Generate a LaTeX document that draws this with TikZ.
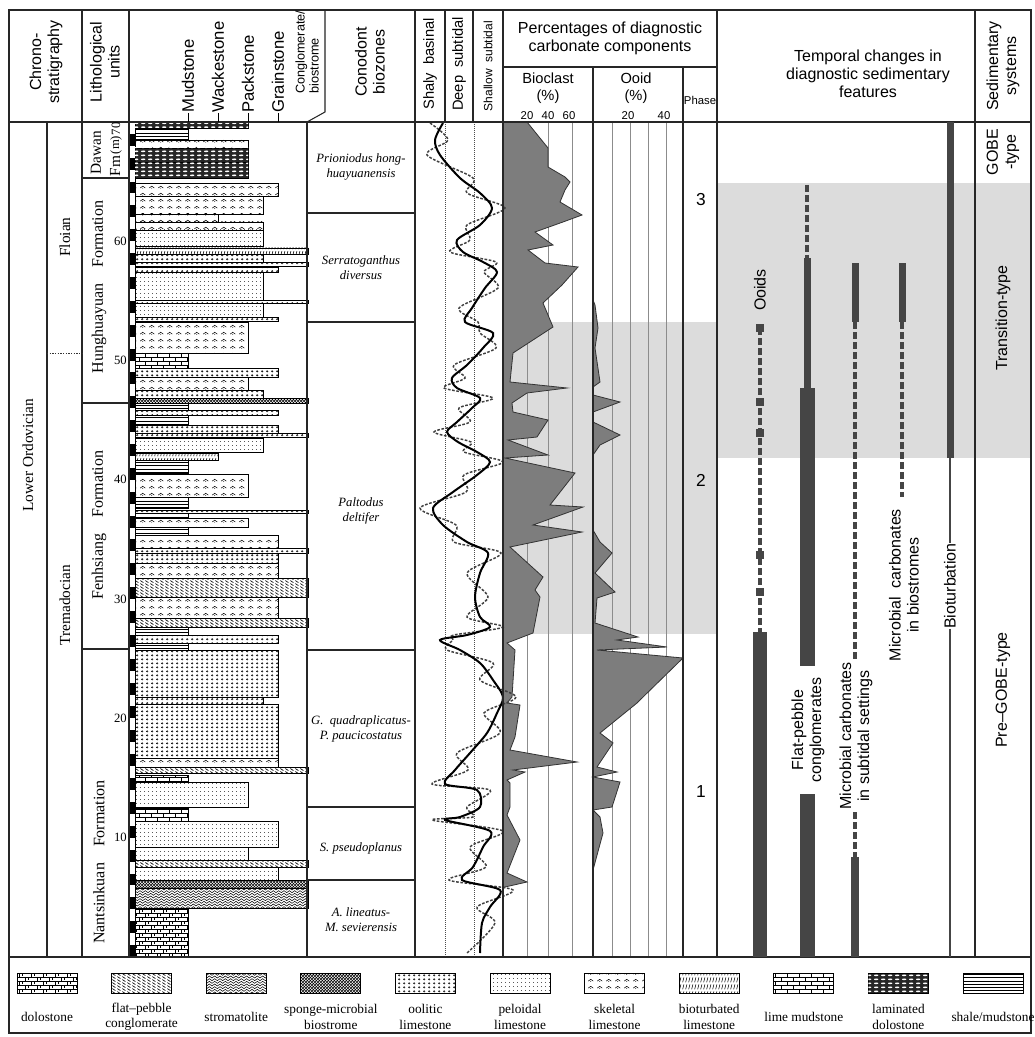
\documentclass[tikz,border=0pt]{standalone}
\usepackage{fontspec}
\usepackage{graphicx}
\setmainfont{Liberation Serif}
\setsansfont{Liberation Sans}
\usetikzlibrary{patterns}
\definecolor{bargray}{HTML}{454545}
\definecolor{compgray}{HTML}{7D7D7D}
\definecolor{shadegray}{HTML}{DCDCDC}
\definecolor{gridgray}{HTML}{8C8C8C}

\pgfdeclarepatternformonly{Pshale}{\pgfqpoint{-0.1pt}{-0.1pt}}{\pgfqpoint{3.1pt}{2.5pt}}{\pgfqpoint{3pt}{2.4pt}}{%
 \pgfsetlinewidth{0.45pt}\pgfpathmoveto{\pgfqpoint{-0.1pt}{1.2pt}}\pgfpathlineto{\pgfqpoint{3.1pt}{1.2pt}}\pgfusepath{stroke}}
\pgfdeclarepatternformonly{Pbrick}{\pgfqpoint{-0.5pt}{-0.5pt}}{\pgfqpoint{9.5pt}{6.5pt}}{\pgfqpoint{9pt}{6pt}}{%
 \pgfsetlinewidth{0.5pt}
 \pgfpathmoveto{\pgfqpoint{0pt}{0pt}}\pgfpathlineto{\pgfqpoint{9pt}{0pt}}
 \pgfpathmoveto{\pgfqpoint{0pt}{3pt}}\pgfpathlineto{\pgfqpoint{9pt}{3pt}}
 \pgfpathmoveto{\pgfqpoint{1pt}{0pt}}\pgfpathlineto{\pgfqpoint{1pt}{3pt}}
 \pgfpathmoveto{\pgfqpoint{5.5pt}{3pt}}\pgfpathlineto{\pgfqpoint{5.5pt}{6pt}}
 \pgfusepath{stroke}}
\pgfdeclarepatternformonly{Pdolo}{\pgfqpoint{-0.5pt}{-0.5pt}}{\pgfqpoint{9.5pt}{6.5pt}}{\pgfqpoint{9pt}{6pt}}{%
 \pgfsetlinewidth{0.5pt}
 \pgfpathmoveto{\pgfqpoint{0pt}{0pt}}\pgfpathlineto{\pgfqpoint{9pt}{0pt}}
 \pgfpathmoveto{\pgfqpoint{0pt}{3pt}}\pgfpathlineto{\pgfqpoint{9pt}{3pt}}
 \pgfpathmoveto{\pgfqpoint{1pt}{0pt}}\pgfpathlineto{\pgfqpoint{1pt}{3pt}}
 \pgfpathmoveto{\pgfqpoint{5.5pt}{3pt}}\pgfpathlineto{\pgfqpoint{5.5pt}{6pt}}
 \pgfpathmoveto{\pgfqpoint{3.5pt}{0.6pt}}\pgfpathlineto{\pgfqpoint{3.5pt}{2.4pt}}
 \pgfpathmoveto{\pgfqpoint{8pt}{3.6pt}}\pgfpathlineto{\pgfqpoint{8pt}{5.4pt}}
 \pgfusepath{stroke}}
\pgfdeclarepatternformonly{Poolit}{\pgfqpoint{0pt}{0pt}}{\pgfqpoint{3.5pt}{3pt}}{\pgfqpoint{3.5pt}{3pt}}{%
 \pgfsetlinewidth{0.35pt}\pgfpathcircle{\pgfqpoint{1.75pt}{1.5pt}}{0.65pt}\pgfusepath{stroke}}
\pgfdeclarepatternformonly{Ppel}{\pgfqpoint{0pt}{0pt}}{\pgfqpoint{2.6pt}{2.6pt}}{\pgfqpoint{2.6pt}{2.6pt}}{%
 \pgfpathcircle{\pgfqpoint{1.3pt}{1.3pt}}{0.35pt}\pgfusepath{fill}}
\pgfdeclarepatternformonly{Pskel}{\pgfqpoint{0pt}{0pt}}{\pgfqpoint{7pt}{5pt}}{\pgfqpoint{7pt}{5pt}}{%
 \pgfsetlinewidth{0.4pt}
 \pgfpathmoveto{\pgfqpoint{1pt}{1.5pt}}\pgfpathcurveto{\pgfqpoint{2pt}{3.3pt}}{\pgfqpoint{4pt}{3.3pt}}{\pgfqpoint{5pt}{1.5pt}}
 \pgfusepath{stroke}
 \pgfpathcircle{\pgfqpoint{3pt}{1.3pt}}{0.35pt}\pgfusepath{fill}}
\pgfdeclarepatternformonly{Pbiot}{\pgfqpoint{0pt}{0pt}}{\pgfqpoint{2.5pt}{5pt}}{\pgfqpoint{2.5pt}{5pt}}{%
 \pgfsetlinewidth{0.5pt}\pgfpathmoveto{\pgfqpoint{0.6pt}{0.6pt}}\pgfpathlineto{\pgfqpoint{1.7pt}{4.4pt}}\pgfusepath{stroke}}
\pgfdeclarepatternformonly{Pfpc}{\pgfqpoint{0pt}{0pt}}{\pgfqpoint{3.5pt}{2.5pt}}{\pgfqpoint{3.5pt}{2.5pt}}{%
 \pgfsetlinewidth{0.55pt}\pgfpathmoveto{\pgfqpoint{0.3pt}{2.1pt}}\pgfpathlineto{\pgfqpoint{2.7pt}{0.4pt}}\pgfusepath{stroke}}
\pgfdeclarepatternformonly{Pstrom}{\pgfqpoint{-0.2pt}{-0.2pt}}{\pgfqpoint{4.2pt}{2.2pt}}{\pgfqpoint{4pt}{2pt}}{%
 \pgfsetlinewidth{0.4pt}\pgfpathmoveto{\pgfqpoint{0pt}{1pt}}
 \pgfpathcurveto{\pgfqpoint{0.7pt}{2pt}}{\pgfqpoint{1.3pt}{2pt}}{\pgfqpoint{2pt}{1pt}}
 \pgfpathcurveto{\pgfqpoint{2.7pt}{0pt}}{\pgfqpoint{3.3pt}{0pt}}{\pgfqpoint{4pt}{1pt}}\pgfusepath{stroke}}
\pgfdeclarepatternformonly{Psponge}{\pgfqpoint{0pt}{0pt}}{\pgfqpoint{2.5pt}{2.5pt}}{\pgfqpoint{2.5pt}{2.5pt}}{%
 \pgfsetlinewidth{0.45pt}
 \pgfpathmoveto{\pgfqpoint{0pt}{0pt}}\pgfpathlineto{\pgfqpoint{2.5pt}{2.5pt}}
 \pgfpathmoveto{\pgfqpoint{0pt}{2.5pt}}\pgfpathlineto{\pgfqpoint{2.5pt}{0pt}}\pgfusepath{stroke}}
\pgfdeclarepatternformonly{Plam}{\pgfqpoint{0pt}{0pt}}{\pgfqpoint{5pt}{3pt}}{\pgfqpoint{5pt}{3pt}}{%
 \pgfpathellipse{\pgfqpoint{2.5pt}{1.5pt}}{\pgfqpoint{1.7pt}{0pt}}{\pgfqpoint{0pt}{0.75pt}}\pgfusepath{fill}}

\tikzset{
 frame/.style={draw=black!85, line width=0.8pt},
 gridln/.style={draw=gridgray, line width=0.6pt},
 dotln/.style={draw=black!70, line width=0.5pt, dash pattern=on 0.6pt off 0.9pt},
 bed/.style={draw=black, line width=0.5pt, preaction={fill=white}},
 Lshale/.style={pattern=Pshale},
 Llime/.style={pattern=Pbrick},
 Ldolo/.style={pattern=Pdolo},
 Loolit/.style={pattern=Poolit},
 Lpel/.style={pattern=Ppel},
 Lskel/.style={pattern=Pskel},
 Lbiot/.style={pattern=Pbiot},
 Lfpc/.style={pattern=Pfpc},
 Lstrom/.style={pattern=Pstrom},
 Lsponge/.style={pattern=Psponge},
 Llam/.style={fill=black!85, postaction={pattern=Plam, pattern color=white}},
 hdr/.style={font=\sffamily\fontsize{12}{13.5}\selectfont, align=center, inner sep=0pt},
 hdrv/.style={hdr, rotate=90},
 texlab/.style={font=\sffamily\fontsize{12.5}{13}\selectfont, inner sep=0pt, rotate=90, anchor=west},
 serifv/.style={font=\fontsize{12}{13}\selectfont, inner sep=0pt, rotate=90, align=center},
 depth/.style={font=\fontsize{9.5}{10}\selectfont, inner sep=0pt, anchor=east},
 smallv/.style={inner sep=0pt},
 cono/.style={font=\itshape\fontsize{9.5}{11}\selectfont, align=center, inner sep=0pt},
 featlab/.style={font=\sffamily\fontsize{12}{13.5}\selectfont, align=center, inner sep=0pt, rotate=90},
 phasenum/.style={font=\sffamily\fontsize{13}{14}\selectfont, inner sep=0pt},
 leglab/.style={font=\fontsize{10}{11.5}\selectfont, align=center, inner sep=0pt},
 compfill/.style={fill=compgray, draw=black!80, line width=0.6pt},
 bar/.style={fill=bargray},
 dashbar/.style={draw=bargray, line width=3pt, dash pattern=on 5pt off 2.5pt},
}

\begin{document}
\begin{tikzpicture}[x=0.75pt,y=-0.75pt]
\path[use as bounding box, fill=white] (0,0) rectangle (1034,1037);

% shaded intervals
\fill[shadegray] (503,322) rectangle (717,634);
\fill[shadegray] (717,183) rectangle (1031,458);

% grid lines
\foreach \gx in {527,548,572,612,630,648,666} \draw[gridln] (\gx,122) -- (\gx,957);
\foreach \gx in {445,474} \draw[dotln] (\gx,122) -- (\gx,957);

% bioclast percentages
\filldraw[compfill] plot coordinates {(503,122)(527,122)(548,148)(548,167)(565,177)(570,182)(565,190)(560,202)(582,215)(563,222)(535,232)(553,245)(528,250)(545,263)(578,267)(562,285)(543,303)(553,327)(533,340)(513,353)(510,382)(567,388)(527,393)(512,403)(513,412)(548,420)(537,437)(508,440)(548,455)(505,458)(575,473)(568,482)(550,505)(583,507)(533,525)(582,532)(510,547)(543,577)(535,590)(540,597)(533,633)(507,643)(515,650)(512,697)(507,703)(520,705)(515,737)(510,750)(577,762)(513,770)(525,772)(507,780)(510,783)(510,807)(507,815)(520,840)(507,873)(527,882)(505,887)(503,887)} -- cycle;

% ooid percentages
\filldraw[compfill] plot coordinates {(593,300)(595,305)(598,328)(595,348)(600,382)(593,387)(593,395)(620,402)(593,412)(593,422)(620,435)(600,445)(593,455)(593,530)(600,542)(612,553)(595,573)(615,592)(597,598)(595,623)(638,637)(617,640)(667,647)(597,650)(683,658)(640,700)(637,703)(600,733)(613,743)(597,767)(617,772)(593,777)(620,782)(612,807)(593,810)(600,817)(603,833)(593,870)} -- cycle;

% sea-level curves
\def\solidpts{443/123,435/140,440/155,460/178,480/193,492/208,480/225,457/240,463/252,483/262,497/272,485/288,472/308,465/322,493/333,483/348,467/365,452/378,457/388,480/398,472/408,457/422,447/432,458/442,477/452,490/462,477/475,453/492,433/508,443/525,467/542,488/553,480/573,475/597,480/617,490/627,467/635,440/640,460/650,480/663,493/680,503/697,497/713,487/733,470/753,455/770,445/784,477/790,480/807,460/817,445/820,490/831,483/847,473/867,462/880,500/890,490/907,482/923,480/953}
\gdef\solidlist{}\gdef\dashlist{}
\foreach \px/\py [count=\i] in \solidpts {
  \pgfmathsetmacro\qx{\px+(mod(\i,2)==0 ? 13 : -13)}
  \xdef\solidlist{\solidlist(\px,\py)}
  \xdef\dashlist{\dashlist(\qx,\py)}
}
\edef\drawcurves{\noexpand\draw[black!75, line width=1.1pt, dash pattern=on 2pt off 1.2pt] plot[smooth] coordinates {\dashlist};
 \noexpand\draw[black, line width=1.5pt] plot[smooth] coordinates {\solidlist};}
\drawcurves

% depth scale bar
\foreach \k in {0,2,...,68} \fill[black] (129,{957-11.93*\k}) rectangle (135,{957-11.93*(\k+1)});
\draw[line width=0.5pt] (129,122) rectangle (135,957);

% lithology beds
\foreach \a/\b/\r/\ty in {
122/128/248/Llam, 128/140/188/Lshale, 140/148/248/Lskel, 148/162/248/Llam, 162/178/248/Llam,
183/196/278/Lskel, 196/214/263/Lskel, 214/222/218/Lskel, 222/230/263/Lskel, 230/246/263/Lpel,
248/254/308/Lbiot, 254/262/263/Loolit, 262/266/308/Loolit, 267/272/278/Loolit, 272/300/263/Lpel,
300/303/308/Loolit, 303/317/263/Lpel, 317/321/278/Loolit, 322/353/248/Lskel, 353/368/188/Llime,
368/377/278/Loolit, 377/390/248/Lskel, 390/398/263/Loolit, 398/403/308/Lsponge, 403/410/188/Lshale,
410/415/278/Loolit, 415/425/188/Lshale, 425/433/278/Loolit, 433/437/308/Loolit, 438/452/263/Lpel,
453/460/218/Lbiot, 460/473/188/Lshale, 474/497/248/Lskel, 497/508/188/Lshale, 510/513/308/Loolit,
513/518/188/Lshale, 518/527/248/Lskel, 527/535/188/Lshale, 535/548/278/Lskel, 548/553/308/Loolit,
553/563/278/Loolit, 563/578/278/Lskel, 578/597/308/Lfpc, 597/618/278/Lskel, 618/627/308/Lfpc,
627/635/188/Lshale, 635/643/278/Loolit, 643/650/188/Lshale, 650/697/278/Loolit, 697/704/263/Loolit,
704/758/278/Loolit, 758/767/278/Lskel, 767/773/308/Lfpc, 775/782/188/Llime, 782/807/248/Lpel,
808/821/188/Llime, 821/847/278/Lpel, 847/860/248/Lpel, 860/867/308/Lfpc, 867/880/278/Lpel,
880/888/308/Lsponge, 888/908/308/Lstrom, 908/957/188/Ldolo}
 \path[bed,\ty] (135,\a) rectangle (\r,\b);

% frame
\draw[frame] (9,10) rectangle (1031,957);
\draw[frame] (9,957) rectangle (1031,1033);
\draw[frame] (9,122) -- (1031,122);
\foreach \vx in {82,129,415,503,717,975} \draw[frame] (\vx,10) -- (\vx,957);
\draw[frame] (47,122) -- (47,957);
\draw[frame] (307,122) -- (307,957);
\draw[frame] (325,10) -- (325,112) -- (307,122);
\draw[frame] (445,10) -- (445,122);
\draw[frame] (473,10) -- (473,122);
\draw[frame] (503,67) -- (717,67);
\draw[frame] (593,67) -- (593,957);
\draw[frame] (683,67) -- (683,957);
\foreach \hy in {178,403,649} \draw[frame] (82,\hy) -- (129,\hy);
\foreach \hy in {213,322,650,807,880} \draw[frame] (307,\hy) -- (415,\hy);
\draw[black!80, line width=0.7pt, dash pattern=on 1pt off 1pt] (47,353) -- (82,353);

% header texts
\node[hdrv] (hChrono) at (46,62) {Chrono-\\stratigraphy};
\node[hdrv] (hLitho) at (105,62) {Lithological\\units};
\foreach \tx/\tn in {188/Mudstone,218/Wackestone,248/Packstone,278/Grainstone} {
  \node[texlab] (tx\tn) at (\tx,113) {\tn};
  \draw[line width=0.6pt] (tx\tn.west) -- (\tx,122);
}
\node[font=\sffamily\fontsize{9.5}{10.5}\selectfont, inner sep=0pt, rotate=90, anchor=west, align=left] (hCong) at (307,94) {Conglomerate/\\biostrome};
\node[hdrv] (hCono) at (370,62) {Conodont\\biozones};
\node[hdr, rotate=90, font=\sffamily\fontsize{11}{12}\selectfont] (hShaly) at (430,64) {Shaly\ \ basinal};
\node[hdr, rotate=90, font=\sffamily\fontsize{11}{12}\selectfont] (hDeep) at (459,64) {Deep\ \ subtidal};
\node[hdr, rotate=90, font=\sffamily\fontsize{9}{10}\selectfont] (hShallow) at (488,66) {Shallow\ \ subtidal};
\node[hdr] (hPerc) at (610,38) {Percentages of diagnostic\\carbonate components};
\node[hdr, font=\sffamily\fontsize{11}{13}\selectfont] (hBio) at (548,88) {Bioclast\\(\%)};
\node[hdr, font=\sffamily\fontsize{11}{13}\selectfont] (hOoid) at (636,88) {Ooid\\(\%)};
\node[hdr, font=\sffamily\fontsize{8.5}{9}\selectfont] (hB20) at (527,116) {20};
\node[hdr, font=\sffamily\fontsize{8.5}{9}\selectfont] (hB40) at (548,116) {40};
\node[hdr, font=\sffamily\fontsize{8.5}{9}\selectfont] (hB60) at (569,116) {60};
\node[hdr, font=\sffamily\fontsize{8.5}{9}\selectfont] (hO20) at (628,116) {20};
\node[hdr, font=\sffamily\fontsize{8.5}{9}\selectfont] (hO40) at (664,116) {40};
\node[hdr, font=\sffamily\fontsize{8.5}{9}\selectfont] (hPhase) at (700,100) {Phase};
\node[hdr] (hTemp) at (868,74) {Temporal changes in\\diagnostic sedimentary\\features};
\node[hdrv] (hSed) at (1003,66) {Sedimentary\\systems};

% chronostratigraphy and units
\node[serifv, font=\fontsize{11.5}{12}\selectfont] (cLO) at (28,455) {Lower Ordovician};
\node[serifv, font=\fontsize{11.5}{12}\selectfont] (cFl) at (65,237) {Floian};
\node[serifv, font=\fontsize{11.5}{12}\selectfont] (cTr) at (65,605) {Tremadocian};
\node[smallv] (uDa1) at (96,153) {\rotatebox{90}{\fontsize{11.5}{12}\selectfont Dawan}};
\node[smallv] (uDa2) at (115,166) {\rotatebox{90}{\fontsize{11.5}{12}\selectfont Fm}};
\node[serifv] (uHu) at (99,287) {Hunghuayuan\quad Formation};
\node[serifv] (uFe) at (99,525) {Fenhsiang\quad Formation};
\node[serifv] (uNa) at (99,862) {Nantsinkuan\quad Formation};
\node[smallv] (d70) at (116,129) {\rotatebox{90}{\fontsize{9.5}{10}\selectfont 70}};
\node[smallv] (dm) at (116,145) {\rotatebox{90}{\fontsize{9.5}{10}\selectfont (m)}};
\foreach \m in {10,20,30,40,50,60} \node[depth] (d\m) at (127,{957-11.93*\m}) {\m};

% conodont zones
\node[cono] (z1) at (361,167) {Prioniodus hong-\\huayuanensis};
\node[cono] (z2) at (361,268) {Serratoganthus\\diversus};
\node[cono] (z3) at (361,511) {Paltodus\\deltifer};
\node[cono] (z4) at (361,729) {G.\ \ quadraplicatus-\\P. paucicostatus};
\node[cono] (z5) at (361,848) {S. pseudoplanus};
\node[cono] (z6) at (361,920) {A. lineatus-\\M. sevierensis};

% phases
\node[phasenum] (p3) at (701,200) {3};
\node[phasenum] (p2) at (701,480) {2};
\node[phasenum] (p1) at (701,792) {1};

% temporal changes: ooids
\fill[bar] (753,632) rectangle (767,957);
\draw[dashbar] (760,328) -- (760,632);
\foreach \sy in {328,402,433,555,592} \fill[bar] (756,{\sy-4}) rectangle (764,{\sy+4});
\node[featlab] (fOoid) at (760,290) {Ooids};
% flat-pebble conglomerates
\draw[dashbar] (807,185) -- (807,258);
\fill[bar] (803.5,258) rectangle (810.5,388);
\fill[bar] (800,388) rectangle (815,666);
\fill[bar] (800,794) rectangle (815,957);
\node[featlab] (fFpc) at (808,730) {Flat-pebble\\conglomerates};
% microbial carbonates in subtidal settings
\fill[bar] (851.5,263) rectangle (858.5,322);
\draw[dashbar] (855,322) -- (855,660);
\draw[dashbar] (855,812) -- (855,857);
\fill[bar] (851,857) rectangle (859,957);
\node[featlab] (fSub) at (856,736) {Microbial carbonates\\in subtidal settings};
% microbial carbonates in biostromes
\fill[bar] (898.5,263) rectangle (905.5,322);
\draw[dashbar] (902,322) -- (902,497);
\node[featlab] (fBio) at (904,585) {Microbial\ \ carbonates\\in biostromes};
% bioturbation
\fill[bar] (946.5,122) rectangle (953.5,458);
\node[featlab] (fTurb) at (950,586) {Bioturbation};
\draw[bargray, line width=1.8pt] (950,458) -- (fTurb.east);
\draw[bargray, line width=1.8pt] (fTurb.west) -- (950,957);

% sedimentary systems
\node[featlab] (sGobe) at (1003,152) {GOBE\\-type};
\node[featlab] (sTrans) at (1003,318) {Transition-type};
\node[featlab] (sPre) at (1003,690) {Pre–GOBE-type};

% legend
\foreach \i/\ty/\lab in {0/Ldolo/dolostone, 1/Lfpc/{flat–pebble\\conglomerate}, 2/Lstrom/stromatolite,
  3/Lsponge/{sponge-microbial\\biostrome}, 4/Loolit/{oolitic\\limestone}, 5/Lpel/{peloidal\\limestone},
  6/Lskel/{skeletal\\limestone}, 7/Lbiot/{bioturbated\\limestone}, 8/Llime/{lime mudstone},
  9/Llam/{laminated\\dolostone}, 10/Lshale/{shale/mudstone}} {
  \path[bed,\ty] ({17+94.6*\i},973) rectangle ({77+94.6*\i},993);
  \node[leglab] (leg\i) at ({47+94.6*\i},1017) {\lab};
}
\end{tikzpicture}
\end{document}
